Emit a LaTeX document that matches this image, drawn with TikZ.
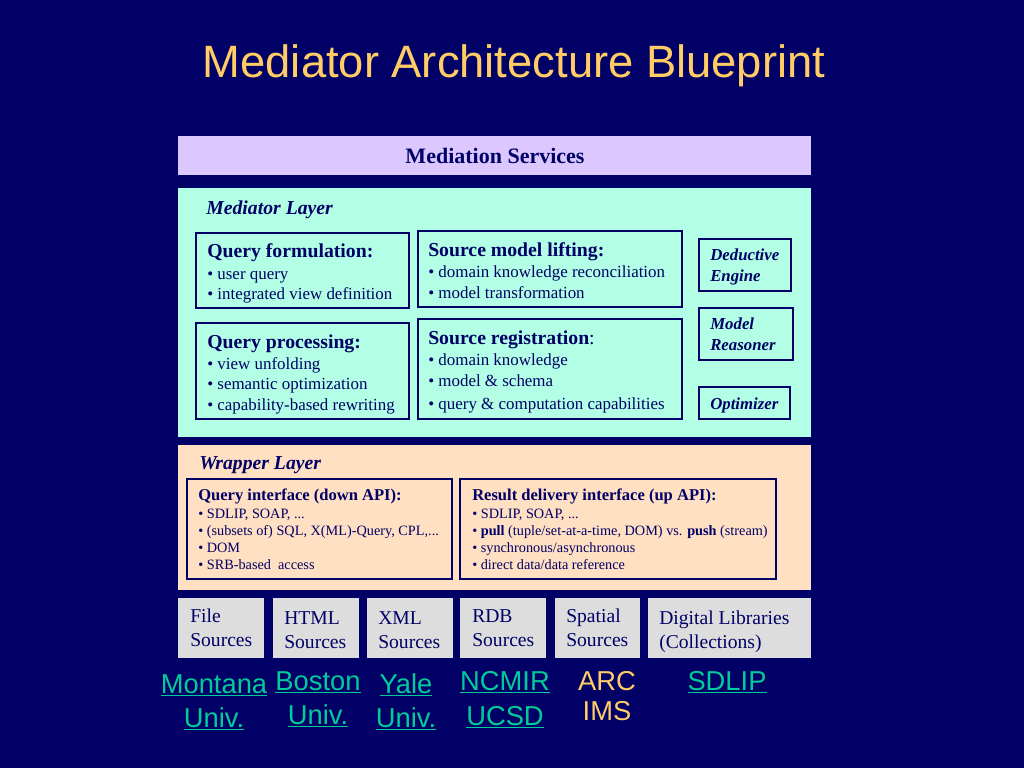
\documentclass[tikz,border=0pt]{standalone}
\usepackage{fontspec}
\setmainfont{Liberation Serif}
\setsansfont{Liberation Sans}
\definecolor{bg}{HTML}{000066}
\definecolor{mint}{HTML}{B3FFE6}
\definecolor{lav}{HTML}{DCC8FF}
\definecolor{peach}{HTML}{FFE0C2}
\definecolor{srcgray}{HTML}{DDDDDD}
\definecolor{ink}{HTML}{000066}
\definecolor{gold}{HTML}{FFCC66}
\definecolor{teal}{HTML}{00CC99}
\begin{document}
\begin{tikzpicture}[x=0.75pt,y=-0.75pt,
  ibox/.style={draw=ink, line width=0.9pt},
  txt/.style={anchor=base west, inner sep=0pt, text=ink},
  head/.style={txt, font=\fontsize{14.8}{17}\selectfont\bfseries},
  item/.style={txt, font=\fontsize{12.7}{15}\selectfont},
  side/.style={txt, font=\fontsize{12.6}{15}\selectfont\bfseries\itshape},
  whead/.style={txt, font=\fontsize{12.4}{14}\selectfont\bfseries},
  witem/.style={txt, font=\fontsize{10.7}{12}\selectfont},
  layer/.style={txt, font=\fontsize{14.8}{17}\selectfont\bfseries\itshape},
  srctxt/.style={txt, font=\fontsize{14.7}{18}\selectfont},
  link/.style={anchor=base, inner sep=0pt, text=teal, font=\sffamily\fontsize{20.5}{25}\selectfont},
  plain/.style={anchor=base, inner sep=0pt, text=gold, font=\sffamily\fontsize{20.5}{25}\selectfont}
]
\fill[bg] (0,0) rectangle (1024,768);
\useasboundingbox (0,0) rectangle (1024,768);

% title
\node[anchor=base, inner sep=0pt, text=gold, font=\sffamily\fontsize{34}{40}\selectfont] (title) at (514,77) {Mediator Architecture Blueprint};

% mediation services
\fill[lav] (178,136) rectangle (811,175);
\node[anchor=base, inner sep=0pt, text=ink, font=\fontsize{16.5}{18}\selectfont\bfseries] (ms) at (495,163) {Mediation Services};

% mediator layer
\fill[mint] (178,188) rectangle (811,437);
\node[layer] (ml) at (206,214) {Mediator Layer};

\draw[ibox] (196,233) rectangle (409,308);
\node[head] (qf) at (207,257) {Query formulation:};
\node[item] (qf1) at (207,279) {• user query};
\node[item] (qf2) at (207,299) {• integrated view definition};

\draw[ibox] (196,323) rectangle (409,419);
\node[head] (qp) at (207,348) {Query processing:};
\node[item] (qp1) at (207,369) {• view unfolding};
\node[item] (qp2) at (207,389) {• semantic optimization};
\node[item] (qp3) at (207,410) {• capability-based rewriting};

\draw[ibox] (418,231) rectangle (682,307);
\node[head] (sml) at (428,256) {Source model lifting:};
\node[item] (sml1) at (428,277) {• domain knowledge reconciliation};
\node[item] (sml2) at (428,298) {• model transformation};

\draw[ibox] (418,319) rectangle (682,419);
\node[head] (sr) at (428,344) {Source registration\textmd{:}};
\node[item] (sr1) at (428,365) {• domain knowledge};
\node[item] (sr2) at (428,386) {• model \& schema};
\node[item] (sr3) at (428,409) {• query \& computation capabilities};

\draw[ibox] (699,239) rectangle (791,291);
\node[side] (de) at (710,260) {Deductive};
\node[side] (de2) at (710,281) {Engine};

\draw[ibox] (699,308) rectangle (793,360);
\node[side] (mr) at (710,329) {Model};
\node[side] (mr2) at (710,350) {Reasoner};

\draw[ibox] (699,387) rectangle (790,419);
\node[side] (op) at (710,409) {Optimizer};

% wrapper layer
\fill[peach] (178,445) rectangle (811,590);
\node[layer] (wl) at (199,469) {Wrapper Layer};

\draw[ibox] (187,479) rectangle (452,579);
\node[whead] (qi) at (198,500) {Query interface (down API):};
\node[witem] (qi1) at (198,518) {• SDLIP, SOAP, ...};
\node[witem] (qi2) at (198,535) {• (subsets of) SQL, X(ML)-Query, CPL,...};
\node[witem] (qi3) at (198,552) {• DOM};
\node[witem] (qi4) at (198,569) {• SRB-based\ \ access};

\draw[ibox] (460,479) rectangle (776,579);
\node[whead] (rd) at (472,500) {Result delivery interface (up API):};
\node[witem] (rd1) at (472,518) {• SDLIP, SOAP, ...};
\node[witem] (rd2) at (472,535) {• \textbf{pull} (tuple/set-at-a-time, DOM) vs. \textbf{push} (stream)};
\node[witem] (rd3) at (472,552) {• synchronous/asynchronous};
\node[witem] (rd4) at (472,569) {• direct data/data reference};

% sources
\fill[srcgray] (178,598) rectangle (264,658);
\node[srctxt] (s1a) at (190,622) {File};
\node[srctxt] (s1b) at (190,646) {Sources};
\fill[srcgray] (273,598) rectangle (359,658);
\node[srctxt] (s2a) at (284,624) {HTML};
\node[srctxt] (s2b) at (284,648) {Sources};
\fill[srcgray] (367,598) rectangle (453,658);
\node[srctxt] (s3a) at (378,624) {XML};
\node[srctxt] (s3b) at (378,648) {Sources};
\fill[srcgray] (460,598) rectangle (546,658);
\node[srctxt] (s4a) at (472,622) {RDB};
\node[srctxt] (s4b) at (472,646) {Sources};
\fill[srcgray] (555,598) rectangle (640,658);
\node[srctxt] (s5a) at (566,622) {Spatial};
\node[srctxt] (s5b) at (566,646) {Sources};
\fill[srcgray] (648,598) rectangle (811,658);
\node[srctxt] (s6a) at (659,624) {Digital Libraries};
\node[srctxt] (s6b) at (659,648) {(Collections)};

% labels
\node[link] (l1a) at (214,693) {\underline{Montana}};
\node[link] (l1b) at (214,727) {\underline{Univ.}};
\node[link] (l2a) at (318,690) {\underline{Boston}};
\node[link] (l2b) at (318,724) {\underline{Univ.}};
\node[link] (l3a) at (406,693) {\underline{Yale}};
\node[link] (l3b) at (406,727) {\underline{Univ.}};
\node[link] (l4a) at (505,690) {\underline{NCMIR}};
\node[link] (l4b) at (505,725) {\underline{UCSD}};
\node[plain] (l5a) at (607,690) {ARC};
\node[plain] (l5b) at (607,720) {IMS};
\node[link] (l6) at (727,690) {\underline{SDLIP}};
\end{tikzpicture}
\end{document}
